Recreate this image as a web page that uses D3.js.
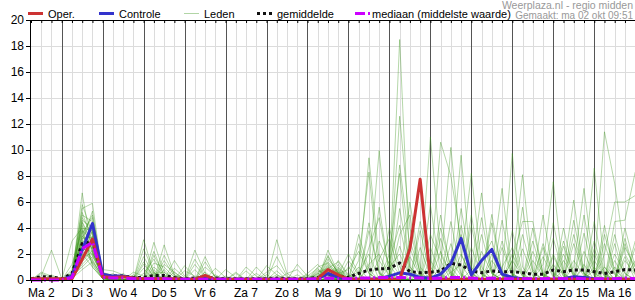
<!DOCTYPE html>
<html>
<head>
<meta charset="utf-8">
<script src="https://cdn.jsdelivr.net/npm/d3@7"></script>
<style>
  body { margin: 0; background: #fff; }
  text { font-family: "Liberation Sans", Arial, sans-serif; }
</style>
</head>
<body>
<div id="chart"></div>
<script>
const width = 635;
const height = 300;

// run starts ma 2 okt 06:00, one value every 6 hours
const startTime = new Date(2023, 9, 2, 6);
const stepHours = 6;
const dayLabels = ['Ma 2', 'Di 3', 'Wo 4', 'Do 5', 'Vr 6', 'Za 7', 'Zo 8', 'Ma 9',
  'Di 10', 'Wo 11', 'Do 12', 'Vr 13', 'Za 14', 'Zo 15', 'Ma 16'];
const yTicks = [0, 2, 4, 6, 8, 10, 12, 14, 16, 18, 20];

const oper = [0.1, 0.1, 0.1, 0.1, 0.1, 1.6, 3.15, 0.25, 0.2, 0.25,
  0.15, 0.1, 0.1, 0.1, 0.1, 0.05, 0.05, 0.35, 0.05, 0.05,
  0.05, 0.05, 0.05, 0.05, 0.05, 0.05, 0.05, 0.05, 0.1, 0.8,
  0.4, 0.05, 0.05, 0.05, 0.05, 0.05, 0.05, 2.4, 7.75, 0.05,
  0.05, 0.05, 0.05, 0.05, 0.05, 0.05, 0.05, 0.05, 0.05, 0.05,
  0.05, 0.05, 0.05, 0.05, 0.05, 0.05, 0.05, 0.05, 0.05, 0.05];

const controle = [0.05, 0.05, 0.05, 0.05, 0.3, 2.3, 4.35, 0.45, 0.3, 0.3,
  0.15, 0.1, 0.1, 0.1, 0.05, 0.05, 0.05, 0.15, 0.05, 0.05,
  0.05, 0.05, 0.05, 0.05, 0.05, 0.05, 0.05, 0.05, 0.1, 0.5,
  0.2, 0.05, 0.05, 0.05, 0.1, 0.3, 0.55, 0.45, 0.2, 0.15,
  0.45, 1.25, 3.2, 0.4, 1.5, 2.35, 0.45, 0.2, 0.1, 0.05,
  0.05, 0.05, 0.1, 0.25, 0.2, 0.1, 0.05, 0.05, 0.05, 0.05];

const gemiddelde = [0.1, 0.25, 0.25, 0.1, 0.5, 2.8, 3.0, 0.35, 0.3, 0.3,
  0.2, 0.2, 0.35, 0.35, 0.2, 0.1, 0.15, 0.2, 0.15, 0.1,
  0.1, 0.1, 0.1, 0.1, 0.15, 0.1, 0.1, 0.1, 0.2, 0.45,
  0.3, 0.2, 0.5, 0.77, 0.85, 0.9, 1.3, 0.65, 0.56, 0.6,
  0.7, 1.28, 1.15, 0.7, 0.56, 0.7, 0.64, 0.64, 0.56, 0.44,
  0.44, 0.77, 0.64, 0.77, 0.77, 0.64, 0.5, 0.64, 0.8, 0.77];

const mediaan = [0, 0, 0, 0, 0.2, 2.4, 2.9, 0.2, 0.15, 0.15,
  0.1, 0.1, 0.1, 0.1, 0.05, 0.05, 0.05, 0.05, 0.05, 0.05,
  0.05, 0.05, 0.05, 0.05, 0.05, 0.05, 0.05, 0.05, 0.1, 0.15,
  0.1, 0.1, 0.15, 0.15, 0.2, 0.2, 0.2, 0.15, 0.15, 0.1,
  0.15, 0.2, 0.2, 0.15, 0.1, 0.15, 0.1, 0.1, 0.1, 0.1,
  0.1, 0.15, 0.1, 0.15, 0.1, 0.1, 0.1, 0.1, 0.15, 0.1];

// ensemble members: [step, mm] pairs, steps not listed are dry
const leden = [
  [[1,0.5],[2,0.2],[4,0.2],[5,6.7],[6,2.0],[7,0.2],[9,0.3],[29,0.6],[30,0.2],[32,0.5],[33,9.4],[34,1.5],[35,0.3],[41,0.6],[42,1.2],[47,0.4],[51,2.0],[52,0.3],[57,1.0]],
  [[1,0.3],[2,2.3],[3,0.1],[4,0.5],[5,5.5],[6,5.9],[7,0.3],[12,0.4],[28,0.3],[35,0.5],[36,18.5],[37,1.0],[38,0.2],[44,2.2],[45,0.5],[53,1.5],[54,0.3]],
  [[4,3.0],[5,4.0],[6,1.0],[7,0.1],[12,1.0],[13,0.3],[24,0.4],[29,1.0],[30,0.3],[35,0.3],[36,12.6],[37,4.0],[38,0.5],[46,1.0],[47,2.5],[48,0.4],[55,3.0],[56,0.5]],
  [[4,0.3],[5,4.8],[6,3.5],[7,0.4],[11,3.1],[12,0.5],[17,0.6],[30,1.5],[31,0.4],[36,8.85],[37,2.5],[38,0.3],[42,3.5],[43,0.5],[50,1.8],[51,0.2],[58,2.5],[59,1.0]],
  [[4,0.1],[5,3.5],[6,5.0],[7,0.5],[12,2.9],[13,0.6],[19,0.3],[28,0.8],[29,0.4],[35,2.0],[36,8.2],[37,0.5],[40,4.0],[41,1.0],[49,2.2],[50,0.4],[56,3.5],[57,0.8]],
  [[4,0.4],[5,3.0],[6,2.5],[7,0.2],[13,2.7],[14,0.4],[22,0.5],[29,2.3],[30,0.5],[32,1.5],[33,8.3],[34,0.5],[39,2.5],[40,0.4],[45,5.05],[46,0.5],[52,1.5],[53,0.3]],
  [[4,0.2],[5,2.5],[6,3.8],[7,0.3],[10,0.6],[11,0.3],[18,0.4],[27,0.5],[28,1.2],[29,0.3],[33,1.0],[34,9.95],[35,1.5],[36,0.4],[41,2.8],[42,0.4],[48,3.5],[49,0.6],[54,1.2]],
  [[4,0.6],[5,4.2],[6,2.2],[7,0.1],[16,2.3],[17,0.5],[30,0.8],[38,0.5],[39,11.0],[40,2.0],[41,0.3],[47,1.5],[48,0.3],[55,2.4],[56,0.4]],
  [[4,0.1],[5,1.8],[6,3.0],[7,0.6],[8,0.3],[17,1.8],[18,0.2],[29,0.5],[39,0.5],[40,10.6],[41,8.0],[42,3.0],[43,0.3],[50,2.8],[51,0.5],[57,1.5]],
  [[4,0.3],[5,2.2],[6,1.5],[7,0.2],[12,0.8],[24,3.1],[25,0.5],[30,0.6],[40,1.0],[41,10.2],[42,2.0],[43,0.2],[49,3.0],[50,0.4],[56,2.0],[57,6.0],[58,6.0],[59,6.5]],
  [[4,0.2],[5,5.0],[6,4.5],[7,0.3],[13,1.5],[14,0.3],[21,1.0],[22,0.3],[29,1.4],[30,0.4],[41,1.0],[42,9.6],[43,0.5],[46,2.5],[47,0.3],[53,3.5],[54,0.5]],
  [[5,1.5],[6,2.8],[7,0.4],[8,0.2],[26,1.2],[27,0.3],[31,1.0],[42,1.5],[43,8.2],[44,1.0],[51,1.8],[52,0.3],[57,4.5],[58,4.6],[59,8.3]],
  [[4,0.5],[5,3.8],[6,1.2],[7,0.1],[11,0.5],[12,1.6],[13,0.2],[28,0.4],[29,1.8],[30,0.5],[43,0.8],[44,6.7],[45,0.5],[52,2.6],[53,0.4],[58,1.5],[59,0.4]],
  [[4,0.2],[5,2.8],[6,4.2],[7,0.2],[9,0.5],[28,1.0],[29,1.3],[30,0.2],[45,1.0],[46,7.05],[47,0.5],[54,2.2],[55,0.3]],
  [[4,0.1],[5,1.2],[6,2.0],[7,0.8],[8,0.7],[9,0.4],[16,1.2],[17,0.2],[46,0.5],[47,9.74],[48,1.0],[55,1.5],[56,0.3]],
  [[4,0.4],[5,4.5],[6,2.8],[7,0.2],[14,1.5],[15,0.3],[23,0.6],[24,1.1],[25,0.2],[47,1.0],[48,8.1],[49,0.8],[57,2.0],[58,0.5]],
  [[4,0.3],[5,3.2],[6,3.3],[7,0.3],[13,0.8],[19,0.8],[20,0.2],[30,1.0],[47,1.5],[48,4.5],[49,4.5],[50,0.5],[56,1.0]],
  [[4,0.1],[5,2.0],[6,1.0],[7,0.1],[12,0.6],[23,1.1],[24,0.4],[29,0.7],[50,1.2],[51,7.56],[52,0.5],[58,3.2],[59,0.5]],
  [[4,0.2],[5,3.6],[6,4.8],[7,0.4],[11,1.8],[12,0.4],[29,0.9],[30,1.4],[31,0.3],[52,0.8],[53,6.15],[54,0.5]],
  [[1,0.6],[2,0.3],[4,0.8],[5,5.2],[6,3.0],[7,0.2],[14,0.9],[15,0.2],[20,0.6],[53,1.0],[54,7.05],[55,0.8]],
  [[4,0.1],[5,2.4],[6,2.2],[7,0.3],[12,2.2],[13,0.3],[28,0.5],[29,0.2],[54,1.0],[55,8.6],[56,1.0]],
  [[4,0.3],[5,1.0],[6,1.8],[7,0.5],[8,0.4],[16,1.6],[17,0.3],[27,0.4],[55,0.8],[56,11.4],[57,7.4],[58,2.0],[59,0.5]],
  [[4,0.2],[5,3.0],[6,5.3],[7,0.3],[11,1.2],[12,0.3],[25,0.5],[26,0.8],[30,0.7],[32,3.5],[33,0.8],[36,5.5],[37,1.0],[44,3.5],[45,0.5],[52,4.0],[53,0.5]],
  [[1,0.2],[4,0.5],[5,4.0],[6,3.8],[7,0.2],[13,1.9],[14,0.4],[29,1.1],[33,2.5],[34,4.8],[35,0.6],[39,5.8],[40,0.5],[47,2.0],[48,0.3],[56,4.2],[57,0.5]],
  [[4,0.1],[5,2.6],[6,1.6],[7,0.1],[17,1.0],[18,0.3],[28,0.6],[29,0.9],[34,3.0],[35,1.2],[37,6.0],[38,1.0],[43,4.2],[44,0.5],[51,3.2],[52,0.4],[59,2.5]],
  [[4,0.2],[5,1.6],[6,3.4],[7,0.4],[10,0.4],[21,0.7],[30,0.9],[31,0.3],[32,0.6],[33,2.0],[38,4.5],[39,1.0],[42,5.5],[43,1.0],[48,2.4],[49,0.3],[55,4.5],[56,0.5]],
  [[4,0.4],[5,3.4],[6,2.4],[7,0.2],[12,1.3],[13,1.0],[14,0.2],[29,0.4],[35,4.0],[36,1.0],[40,3.2],[41,0.5],[45,4.4],[46,0.5],[50,5.0],[51,0.6],[57,2.8]],
  [[4,0.1],[5,0.8],[6,1.4],[7,0.3],[15,0.7],[16,0.3],[24,1.8],[25,0.3],[31,1.5],[32,0.4],[36,3.5],[37,5.0],[38,0.4],[44,4.8],[45,0.6],[53,2.8],[54,0.4]],
  [[4,0.3],[5,4.6],[6,4.0],[7,0.3],[11,0.9],[29,1.6],[30,0.6],[33,3.8],[34,0.6],[39,3.5],[40,1.5],[46,3.0],[47,0.4],[54,3.6],[55,0.5],[59,3.0]],
  [[4,0.2],[5,2.2],[6,2.8],[7,0.2],[8,0.5],[18,0.9],[19,0.2],[28,0.3],[34,5.6],[35,0.5],[41,4.5],[42,0.5],[49,1.5],[50,0.3],[56,2.8],[57,0.4]],
  [[4,1.2],[5,3.8],[6,3.1],[7,0.1],[12,0.5],[13,0.6],[26,0.4],[30,0.5],[31,0.8],[32,2.2],[33,0.5],[37,3.0],[38,0.6],[43,2.5],[44,0.4],[51,1.2],[58,4.0],[59,1.0]],
  [[4,0.1],[5,1.9],[6,2.5],[7,0.6],[9,0.3],[22,1.0],[23,0.2],[29,1.2],[30,0.3],[35,1.5],[36,4.2],[37,0.5],[42,2.0],[43,0.3],[48,5.6],[49,0.6],[55,1.0]],
  [[4,0.3],[5,2.9],[6,1.9],[7,0.2],[11,2.4],[12,0.6],[28,0.7],[29,0.3],[33,1.2],[34,2.0],[35,0.3],[40,5.0],[41,0.6],[45,2.0],[46,0.4],[53,4.6],[54,0.5]],
  [[4,0.2],[5,5.8],[6,3.6],[7,0.3],[14,0.6],[17,1.4],[18,0.2],[30,1.2],[32,1.0],[38,2.5],[39,0.3],[44,1.5],[45,3.0],[46,0.4],[52,2.0],[53,0.3],[58,1.8]],
  [[4,0.1],[5,1.4],[6,2.3],[7,0.2],[12,1.9],[13,0.4],[29,0.5],[30,0.8],[36,2.6],[37,0.4],[41,1.6],[42,0.3],[47,3.8],[48,0.5],[54,5.0],[55,0.6]],
  [[4,0.3],[5,3.3],[6,4.4],[7,0.4],[8,0.2],[20,0.5],[27,0.3],[28,0.9],[34,1.6],[35,3.2],[36,0.5],[40,2.2],[41,0.4],[49,4.0],[50,0.5],[57,3.5],[58,0.5]],
  [[4,0.5],[5,2.7],[6,1.3],[7,0.1],[13,1.2],[14,0.6],[24,0.7],[29,1.9],[30,0.4],[31,2.0],[32,0.5],[37,1.8],[38,0.3],[43,5.0],[44,0.5],[50,2.5],[51,0.3],[59,1.5]],
  [[2,0.4],[4,0.2],[5,2.1],[6,3.7],[7,0.3],[16,0.8],[30,0.6],[33,4.4],[34,0.5],[39,1.5],[40,0.3],[46,4.6],[47,0.5],[52,3.0],[53,0.3]],
  [[4,0.1],[5,4.4],[6,2.6],[7,0.2],[11,1.4],[12,0.2],[23,0.4],[28,0.5],[32,2.8],[33,0.5],[38,3.8],[39,0.4],[45,1.5],[46,0.3],[55,2.0],[56,0.3]],
  [[4,0.2],[5,1.7],[6,2.1],[7,0.5],[8,0.3],[15,1.1],[16,0.2],[29,0.8],[30,0.3],[35,1.0],[36,2.0],[37,0.3],[42,4.2],[43,0.6],[51,4.4],[52,0.5],[58,2.8],[59,0.6]]
];

const nSteps = oper.length;
const times = d3.range(nSteps).map(i => d3.timeHour.offset(startTime, i * stepHours));
const ledenSeries = leden.map(pairs => {
  const s = new Array(nSteps).fill(0);
  pairs.forEach(([i, v]) => { s[i] = v; });
  return s;
});

const plotLeft = 31, plotRight = 635, plotTop = 20, plotBottom = 280;
const ledenColor = 'rgb(60,150,30)';

const svg = d3.select('#chart').append('svg')
  .attr('width', width).attr('height', height);

const x = d3.scaleTime()
  .domain([times[0], times[nSteps - 1]])
  .range([plotLeft, plotRight + 0.2]);
const y = d3.scaleLinear().domain([0, 20]).range([plotBottom, plotTop]);

// grid
const grid = svg.append('g');
grid.selectAll('line.hgrid').data(yTicks.slice(1)).enter().append('line')
  .attr('x1', plotLeft).attr('x2', plotRight)
  .attr('y1', d => Math.round(y(d)) + 0.5).attr('y2', d => Math.round(y(d)) + 0.5)
  .attr('stroke', '#dcdcdc');
grid.selectAll('line.vgrid').data(times.slice(1)).enter().append('line')
  .attr('x1', d => Math.round(x(d)) + 0.5).attr('x2', d => Math.round(x(d)) + 0.5)
  .attr('y1', plotTop).attr('y2', plotBottom)
  .attr('stroke', d => d.getHours() === 0 ? '#555' : '#dcdcdc');

svg.append('clipPath').attr('id', 'clip').append('rect')
  .attr('x', plotLeft).attr('y', plotTop)
  .attr('width', plotRight - plotLeft).attr('height', plotBottom - plotTop + 3);

const line = d3.line().x((d, i) => x(times[i])).y(d => y(d));
const plot = svg.append('g').attr('clip-path', 'url(#clip)');

plot.selectAll('path.lid').data(ledenSeries).enter().append('path')
  .attr('class', 'lid')
  .attr('d', line)
  .attr('fill', 'none')
  .attr('stroke', ledenColor)
  .attr('stroke-opacity', 0.38)
  .attr('stroke-width', 1);

plot.append('path').attr('d', line(gemiddelde))
  .attr('fill', 'none').attr('stroke', '#111').attr('stroke-width', 3)
  .attr('stroke-dasharray', '3,3');
plot.append('path').attr('d', line(controle))
  .attr('fill', 'none').attr('stroke', '#3333cc').attr('stroke-width', 3)
  .attr('stroke-linejoin', 'round');
plot.append('path').attr('d', line(oper))
  .attr('fill', 'none').attr('stroke', '#cc3333').attr('stroke-width', 3)
  .attr('stroke-linejoin', 'round');
plot.append('path').attr('d', line(mediaan))
  .attr('fill', 'none').attr('stroke', '#cc00ff').attr('stroke-width', 3)
  .attr('stroke-dasharray', '10,3,2,3');

// axes
const yAxis = svg.append('g').attr('transform', `translate(${plotLeft - 1},0)`)
  .call(d3.axisLeft(y).tickValues(yTicks).tickSize(4).tickPadding(2));
yAxis.selectAll('text').attr('font-size', 12).attr('fill', '#000');

const bottomAxis = svg.append('g').attr('transform', `translate(0,${plotBottom})`)
  .call(d3.axisBottom(x).tickValues(times).tickSize(3).tickFormat(''));
const topAxis = svg.append('g').attr('transform', `translate(0,${plotTop})`)
  .call(d3.axisTop(x).tickValues(times).tickSizeInner(-3).tickSizeOuter(0).tickFormat(''));
[yAxis, bottomAxis, topAxis].forEach(a => a.select('.domain').attr('stroke', '#000'));
bottomAxis.select('.domain').attr('d', `M${plotLeft - 1},0.5H${plotRight}`);
topAxis.select('.domain').attr('d', `M${plotLeft - 1},0.5H${plotRight}`);

svg.append('g').selectAll('text').data(dayLabels).enter().append('text')
  .attr('x', (d, k) => x(new Date(2023, 9, 2 + k, 12)))
  .attr('y', 297)
  .attr('text-anchor', 'middle')
  .attr('font-size', 12)
  .text(d => d);

// legend
const legend = svg.append('g');
const legendItems = [
  { label: 'Oper.', x: 28, color: '#cc3333', dash: null, opacity: 1 },
  { label: 'Controle', x: 99, color: '#3333cc', dash: null, opacity: 1 },
  { label: 'Leden', x: 184, color: ledenColor, dash: null, opacity: 0.4, thin: true },
  { label: 'gemiddelde', x: 257, color: '#111', dash: '3,3', opacity: 1 },
  { label: 'mediaan (middelste waarde)', x: 355, color: '#cc00ff', dash: '10,3,2,3', opacity: 1 }
];
legendItems.forEach(it => {
  legend.append('line')
    .attr('x1', it.x).attr('x2', it.x + 15)
    .attr('y1', 13.5).attr('y2', 13.5)
    .attr('stroke', it.color).attr('stroke-opacity', it.opacity)
    .attr('stroke-width', it.thin ? 1 : 3)
    .attr('stroke-dasharray', it.dash);
  legend.append('text')
    .attr('x', it.x + (it.label.startsWith('mediaan') ? 17 : 20))
    .attr('y', 17.5).attr('font-size', 11).attr('fill', '#000')
    .text(it.label);
});

svg.append('text').attr('x', 633).attr('y', 9).attr('text-anchor', 'end')
  .attr('font-size', 10.5).attr('fill', '#999').text('Weerplaza.nl - regio midden');
svg.append('text').attr('x', 633).attr('y', 19).attr('text-anchor', 'end')
  .attr('font-size', 10).attr('fill', '#999').text('Gemaakt: ma 02 okt 09:51');
</script>
</body>
</html>
